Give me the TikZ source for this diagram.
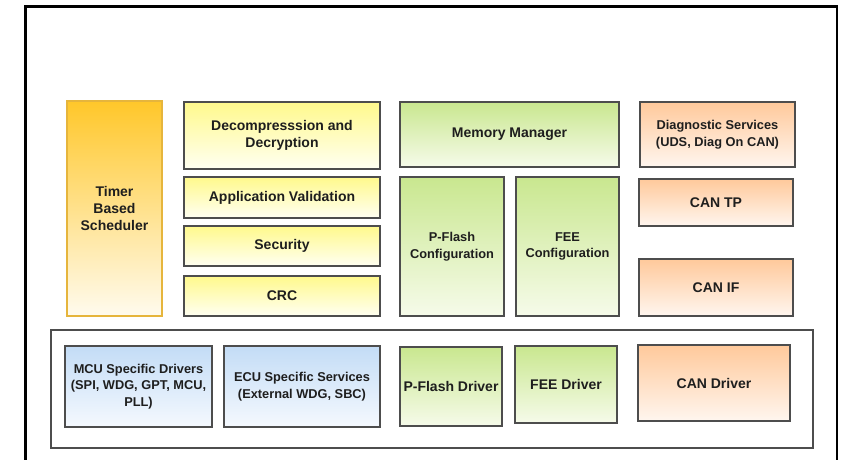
\documentclass[tikz,border=0pt]{standalone}
\usepackage{fontspec}
\setmainfont{Liberation Sans}
\definecolor{boxline}{HTML}{4D4D4D}
\definecolor{txt}{HTML}{1E1E1E}
\definecolor{timerline}{HTML}{E6B53C}
\definecolor{timertop}{HTML}{FFC72A}
\definecolor{timerbot}{HTML}{FFFBEE}
\definecolor{yeltop}{HTML}{FFF98C}
\definecolor{yelbot}{HTML}{FFFFF2}
\definecolor{grntop}{HTML}{C9E78F}
\definecolor{grnbot}{HTML}{F6FBEA}
\definecolor{orgtop}{HTML}{FFC99B}
\definecolor{orgbot}{HTML}{FFF6EF}
\definecolor{blutop}{HTML}{C3DCF6}
\definecolor{blubot}{HTML}{F5F9FE}
\tikzset{
  blk/.style={draw=boxline, line width=1.4pt, inner sep=0pt, outer sep=0pt, align=center, text=txt,
    font=\bfseries\fontsize{14}{17}\selectfont},
  smalltxt/.style={font=\bfseries\fontsize{12.8}{16.5}\selectfont},
  yel/.style={blk, top color=yeltop, bottom color=yelbot},
  grn/.style={blk, top color=grntop, bottom color=grnbot},
  org/.style={blk, top color=orgtop, bottom color=orgbot},
  blu/.style={blk, top color=blutop, bottom color=blubot},
  tmr/.style={blk, draw=timerline, top color=timertop, bottom color=timerbot},
  frameline/.style={draw=black, line width=2.6pt},
  contline/.style={draw=boxline, line width=1.5pt, inner sep=0pt, outer sep=0pt}
}
% \mkbox{name}{style}{x1}{y1}{x2}{y2}{text}
\newcommand\mkbox[7]{%
  \pgfmathsetmacro\bxw{#5-#3}\pgfmathsetmacro\bxh{#6-#4}%
  \node[#2, minimum width=\bxw pt, minimum height=\bxh pt] (#1) at ({(#3+#5)/2},{(#4+#6)/2}) {#7};}
\begin{document}
\begin{tikzpicture}[x=1pt,y=-1pt]
\useasboundingbox[fill=white] (0,0) rectangle (843,459);
% outer frame (open at the bottom)
\coordinate (fbl) at (25.5,462);
\coordinate (ftl) at (25.5,6.5);
\coordinate (ftr) at (837,6.5);
\coordinate (fbr) at (837,462);
\draw[frameline] (fbl) -- (ftl) -- (ftr) -- (fbr);
% bottom container
\mkbox{cont}{contline}{51}{330}{813}{448}{}
% upper left column
\mkbox{timer}{tmr}{67}{101}{162}{316}{Timer\\Based\\Scheduler}
\mkbox{decomp}{yel}{184}{102}{380}{169}{Decompresssion and\\Decryption}
\mkbox{appval}{yel}{184}{177}{380}{218}{Application Validation}
\mkbox{sec}{yel}{184}{226}{380}{266}{Security}
\mkbox{crc}{yel}{184}{276}{380}{316}{CRC}
% memory column
\mkbox{mem}{grn}{400}{102}{619}{167}{Memory Manager}
\mkbox{pfcfg}{grn,smalltxt}{400}{177}{504}{316}{P-Flash\\Configuration}
\mkbox{feecfg}{grn,smalltxt}{516}{177}{619}{316}{FEE\\Configuration}
% communication column
\mkbox{diag}{org,smalltxt}{640}{102}{795}{167}{Diagnostic Services\\(UDS, Diag On CAN)}
\mkbox{cantp}{org}{639}{179}{793}{226}{CAN TP}
\mkbox{canif}{org}{639}{259}{793}{316}{CAN IF}
% drivers
\mkbox{mcu}{blu,smalltxt}{65}{346}{212}{427}{MCU Specific Drivers\\(SPI, WDG, GPT, MCU,\\PLL)}
\mkbox{ecu}{blu,smalltxt}{224}{346}{380}{427}{ECU Specific Services\\(External WDG, SBC)}
\mkbox{pfdrv}{grn}{400}{347}{502}{426}{P-Flash Driver}
\mkbox{feedrv}{grn}{515}{346}{617}{423}{FEE Driver}
\mkbox{candrv}{org}{638}{345}{790}{421}{CAN Driver}
\end{tikzpicture}
\end{document}
